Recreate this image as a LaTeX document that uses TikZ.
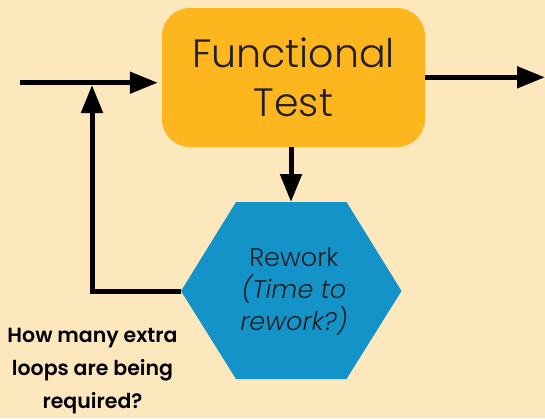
\documentclass[tikz,border=0pt]{standalone}
\usepackage{fontspec}
\setmainfont{Poppins}[UprightFont={* Light}, ItalicFont={* Light Italic}, BoldFont={* SemiBold}]
\usetikzlibrary{arrows.meta}
\definecolor{bg}{HTML}{FDE8BD}
\definecolor{orng}{HTML}{FDB61E}
\definecolor{blu}{HTML}{1493C9}
\definecolor{ink}{HTML}{231F20}
\tikzset{
  flow/.style={line width=5pt, -{Triangle[length=28pt,width=21pt]}},
}
\begin{document}
\begin{tikzpicture}[x=1pt,y=-1pt]
\fill[bg] (0,0) rectangle (545,418);
\useasboundingbox (0,0) rectangle (545,418);
% Functional Test box
\node[fill=orng, rounded corners=28pt, minimum width=263pt, minimum height=139pt,
      text=ink, align=center, font=\fontsize{39.5}{49}\selectfont, inner sep=0pt]
  (ft) at (293.5,77.5) {Functional\\Test};
% hexagon
\coordinate (hl) at (181,291);
\coordinate (ht) at (291,202);
\fill[blu] (236,202) -- (346.5,202) -- (401.5,291) -- (346.5,379) -- (236,379) -- (hl) -- cycle;
\node[text=ink, align=center, font=\fontsize{25.5}{32}\selectfont, inner sep=0pt]
  (rw) at (294,291) {Rework\\\textit{(Time to}\\\textit{rework?)}};
% question
\node[text=black, align=center, font=\bfseries\fontsize{20.5}{33}\selectfont, inner sep=0pt]
  (q) at (92.5,371) {How many extra\\loops are being\\required?};
% arrows
\coordinate (in) at (20,82.7);
\coordinate (out) at (545,77.3);
\coordinate (join) at (92,85);
\draw[flow] (in) -- ([xshift=-4pt,yshift=-5.2pt]ft.west);
\draw[flow] ([yshift=0.2pt]ft.east) -- (out);
\draw[flow] ([xshift=-2.5pt]ft.south) -- (ht);
\draw[flow] (hl) -| (join);
\end{tikzpicture}
\end{document}
